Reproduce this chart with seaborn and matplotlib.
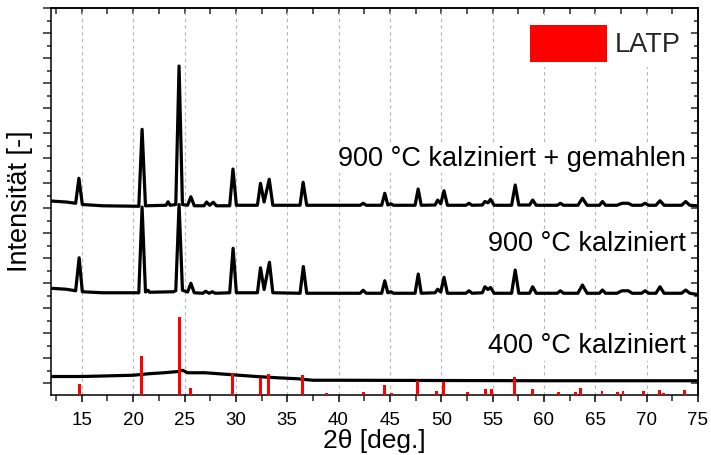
import matplotlib
matplotlib.use("Agg")
import matplotlib.pyplot as plt
from matplotlib.patches import Patch
import seaborn as sns
import pandas as pd

# ---------------- data ----------------
# 900 °C kalziniert + gemahlen (offset curve, top)
milled_x = [12.0, 13.5, 14.4, 14.72, 15.05, 17.0, 20.55, 20.87, 21.2, 23.2, 23.4, 23.6,
            24.15, 24.47, 24.8, 25.3, 25.62, 25.95, 26.9, 27.15, 27.45, 27.8, 28.1,
            29.4, 29.72, 30.05, 32.1, 32.4, 32.75, 33.25, 33.6, 36.25, 36.55, 36.9,
            42.1, 42.4, 42.7, 44.2, 44.5, 44.8, 45.1, 45.35, 47.45, 47.75, 48.05,
            49.4, 49.65, 49.95, 50.27, 50.6, 52.4, 52.7, 53.0, 54.0, 54.25, 54.55,
            54.8, 55.15, 56.85, 57.2, 57.55, 58.6, 58.9, 59.25, 61.3, 61.6, 61.9,
            63.3, 63.75, 64.2, 65.4, 65.7, 66.0, 67.1, 67.6, 68.2, 68.6, 69.5, 69.85,
            70.2, 70.9, 71.3, 71.7, 73.4, 73.8, 74.2, 75.0]
milled_y = [7.29, 7.25, 7.20, 8.20, 7.15, 7.10, 7.08, 10.16, 7.10, 7.12, 7.26, 7.12,
            7.15, 12.69, 7.15, 7.12, 7.46, 7.10, 7.10, 7.25, 7.12, 7.24, 7.10,
            7.10, 8.57, 7.12, 7.12, 8.00, 7.25, 8.16, 7.12, 7.12, 8.04, 7.12,
            7.12, 7.20, 7.12, 7.12, 7.60, 7.13, 7.18, 7.12, 7.12, 7.77, 7.12,
            7.13, 7.33, 7.18, 7.70, 7.12, 7.12, 7.20, 7.12, 7.13, 7.27, 7.22,
            7.36, 7.12, 7.12, 7.93, 7.13, 7.13, 7.33, 7.12, 7.12, 7.20, 7.12,
            7.12, 7.40, 7.12, 7.12, 7.27, 7.12, 7.12, 7.20, 7.20, 7.12, 7.12, 7.20,
            7.12, 7.12, 7.30, 7.12, 7.12, 7.27, 7.12, 7.10]

# 900 °C kalziniert (middle)
calc900_x = [12.0, 13.5, 14.4, 14.74, 15.05, 17.0, 20.55, 20.87, 21.2, 21.45, 21.6, 23.9,
             24.15, 24.47, 24.8, 25.3, 25.62, 25.95, 26.8, 27.05, 27.4, 27.7, 28.0,
             29.4, 29.73, 30.05, 32.1, 32.4, 32.75, 33.27, 33.6, 36.25, 36.57, 36.9,
             42.1, 42.4, 42.7, 44.2, 44.5, 44.8, 45.1, 45.35, 47.45, 47.76, 48.05,
             49.4, 49.65, 49.95, 50.27, 50.6, 52.4, 52.7, 53.0, 54.0, 54.25, 54.55,
             54.8, 55.15, 56.85, 57.2, 57.55, 58.6, 58.9, 59.25, 61.3, 61.6, 61.9,
             63.3, 63.75, 64.2, 65.4, 65.7, 66.0, 67.1, 67.6, 68.2, 68.6, 69.5, 69.85,
             70.2, 70.9, 71.3, 71.7, 73.4, 73.8, 74.2, 75.0]
calc900_y = [3.80, 3.76, 3.70, 5.02, 3.66, 3.62, 3.62, 7.05, 3.65, 3.72, 3.64, 3.66,
             3.70, 7.15, 3.72, 3.65, 4.00, 3.62, 3.60, 3.68, 3.60, 3.66, 3.60,
             3.62, 5.40, 3.62, 3.62, 4.62, 3.75, 4.84, 3.62, 3.60, 4.67, 3.60,
             3.60, 3.72, 3.60, 3.60, 4.10, 3.62, 3.66, 3.60, 3.60, 4.37, 3.60,
             3.62, 3.76, 3.65, 4.24, 3.60, 3.60, 3.70, 3.60, 3.62, 3.86, 3.75,
             3.83, 3.60, 3.60, 4.53, 3.60, 3.60, 3.86, 3.60, 3.60, 3.70, 3.60,
             3.60, 3.93, 3.60, 3.60, 3.73, 3.60, 3.60, 3.70, 3.70, 3.60, 3.60, 3.70,
             3.60, 3.60, 3.86, 3.60, 3.60, 3.73, 3.60, 3.55]

# 400 °C kalziniert (bottom, amorphous)
calc400_x = [12.0, 15.0, 18.0, 20.0, 21.5, 23.0, 24.4, 24.8, 25.3, 27.0, 29.0, 30.0,
             32.0, 34.0, 36.0, 37.5, 40.0, 50.0, 60.0, 75.0]
calc400_y = [0.27, 0.27, 0.30, 0.32, 0.38, 0.42, 0.47, 0.52, 0.42, 0.42, 0.36, 0.33,
             0.27, 0.22, 0.18, 0.12, 0.12, 0.11, 0.10, 0.10]

# LATP reference reflections
latp_pos = [14.74, 20.85, 24.47, 25.6, 29.65, 32.4, 33.2, 36.5, 38.8, 42.4, 44.45,
            45.15, 47.7, 49.55, 50.2, 52.55, 54.3, 54.9, 57.15, 58.85, 61.45, 63.1,
            63.6, 65.65, 67.2, 67.7, 69.7, 71.25, 71.65, 73.65]
latp_int = [0.44, 1.57, 3.14, 0.30, 0.90, 0.67, 0.83, 0.80, 0.07, 0.11, 0.40,
            0.09, 0.56, 0.17, 0.54, 0.11, 0.23, 0.24, 0.71, 0.24, 0.12, 0.11,
            0.27, 0.17, 0.12, 0.16, 0.15, 0.20, 0.10, 0.19]

curve_labels = ["900 °C kalziniert + gemahlen", "900 °C kalziniert", "400 °C kalziniert"]
label_y = [8.70, 5.30, 1.20]
legend_label = "LATP"
x_label = "2θ [deg.]"
y_label = "Intensität [-]"

# ---------------- style ----------------
sns.set_theme(style="white")
plt.rcParams["font.family"] = ["Liberation Sans", "DejaVu Sans"]

fig = plt.figure(figsize=(7.11, 4.55), dpi=100)
ax = fig.add_axes([51 / 711, 1 - 395 / 455, (698 - 51) / 711, (395 - 8.3) / 455])

YMIN, YMAX = -0.47, 15.0
XMIN, XMAX = 12, 75

# reference bars
ax.bar(latp_pos, latp_int, bottom=YMIN, width=0.28, color="#ff0000",
       linewidth=0, zorder=5)

for xs, ys in [(milled_x, milled_y), (calc900_x, calc900_y), (calc400_x, calc400_y)]:
    df = pd.DataFrame({"x": xs, "y": ys})
    sns.lineplot(data=df, x="x", y="y", ax=ax, color="black", linewidth=2.3,
                 estimator=None, sort=False, zorder=4)

for lab, yv in zip(curve_labels, label_y):
    ax.text(73.86, yv, lab, ha="right", va="baseline", fontsize=19.5, color="black",
            zorder=3, bbox=dict(facecolor="white", edgecolor="none", pad=1.0))

ax.set_xlim(XMIN, XMAX)
ax.set_ylim(YMIN, YMAX)
ax.set_xticks(list(range(15, 76, 5)))
ax.set_xticks([12.5 + 5 * i for i in range(13)], minor=True)
ax.set_yticks(list(range(0, 16)))
ax.set_yticks([0.5 + i for i in range(15)], minor=True)
ax.set_yticklabels([])

ax.grid(False)
for gx in range(15, 75, 5):
    ax.axvline(gx, color="#b5b5b5", linewidth=0.8, linestyle=(0, (3, 3)), zorder=1)

ax.tick_params(axis="x", which="major", direction="out", length=5, width=1.1,
               labelsize=13.5, pad=7, bottom=True, top=False, colors="black")
ax.tick_params(axis="x", which="minor", direction="out", length=4.5, width=1.1,
               bottom=True, top=False)
ax.tick_params(axis="y", which="major", direction="out", length=5.5, width=1.1,
               left=True, right=False)
ax.tick_params(axis="y", which="minor", direction="out", length=3.2, width=1.1,
               left=True, right=False)

secx = ax.secondary_xaxis("top")
secx.set_xticks(list(range(15, 76, 5)))
secx.set_xticks([12.5 + 5 * i for i in range(13)], minor=True)
secx.tick_params(axis="x", which="both", direction="in", length=4.5, width=1.1,
                 labeltop=False)
secy = ax.secondary_yaxis("right")
secy.set_yticks(list(range(0, 16)))
secy.set_yticks([0.5 + i for i in range(15)], minor=True)
secy.tick_params(axis="y", which="major", direction="in", length=5, width=1.1,
                 labelright=False)
secy.tick_params(axis="y", which="minor", direction="in", length=3.2, width=1.1)
for s in (secx, secy):
    for sp in s.spines.values():
        sp.set_linewidth(1.1)
        sp.set_color("black")

for sp in ax.spines.values():
    sp.set_linewidth(1.1)
    sp.set_color("black")

ax.set_xlabel(x_label, fontsize=19, color="black")
ax.xaxis.label.set_va("baseline")
ax.xaxis.set_label_coords(0.5, -(448 - 395) / (395 - 8.3))
ax.set_ylabel(y_label, fontsize=19.5, labelpad=4, color="black")

leg = ax.legend(handles=[Patch(facecolor="#ff0000", edgecolor="none", label=legend_label)],
                loc="upper right", bbox_to_anchor=(0.982, 0.972), fontsize=19.5,
                frameon=True, facecolor="white", edgecolor="none", framealpha=1,
                handlelength=2.85, handleheight=1.75, handletextpad=0.3,
                borderpad=0.2, borderaxespad=0)
leg.set_zorder(6)

fig.savefig("out.png", dpi=100)
